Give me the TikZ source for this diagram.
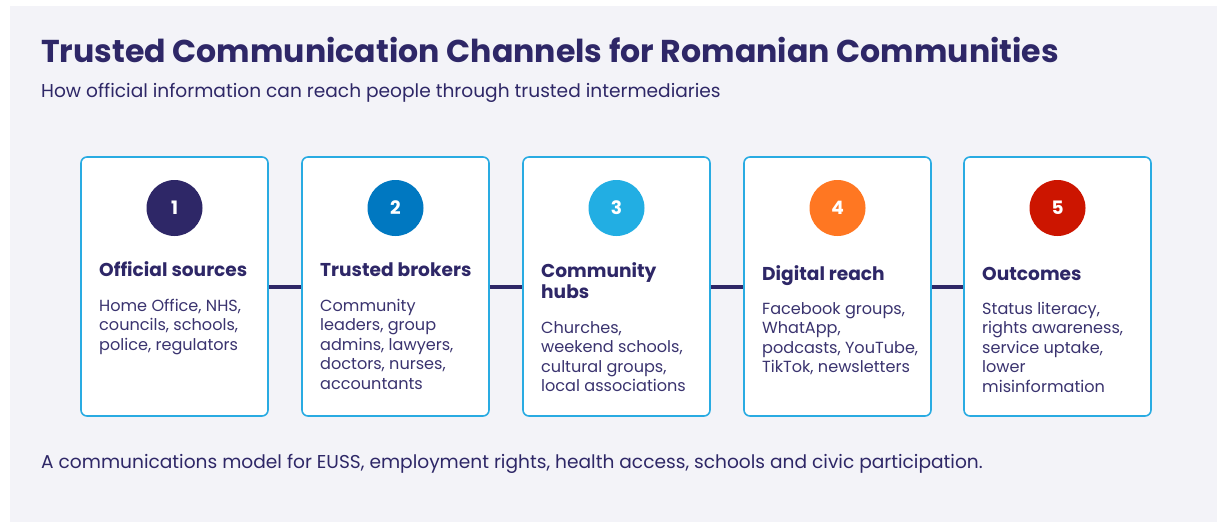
\documentclass[tikz,border=0pt]{standalone}
\usepackage{fontspec}
\setmainfont{Poppins}
\definecolor{navy}{HTML}{2E2767}
\definecolor{bodytxt}{HTML}{3A336F}
\definecolor{panel}{HTML}{F3F3F8}
\definecolor{cardline}{HTML}{29ABE2}
\definecolor{cA}{HTML}{2E2767}
\definecolor{cB}{HTML}{0078C1}
\definecolor{cC}{HTML}{22AEE3}
\definecolor{cD}{HTML}{FF7722}
\definecolor{cE}{HTML}{CC1500}
\newcommand\linestack[1]{\begin{tabular}[t]{@{}l@{}}#1\end{tabular}}
\tikzset{
  card/.style={draw=cardline, line width=1.6pt, fill=white, rounded corners=6pt,
    minimum width=187pt, minimum height=259pt, inner sep=0pt},
  num/.style={circle, minimum size=56pt, inner sep=0pt, text=white,
    font=\bfseries\fontsize{18.5}{20}\selectfont},
  head/.style={anchor=base west, inner sep=0pt, text=navy,
    font=\bfseries\fontsize{18.6}{21.5}\selectfont},
  body/.style={anchor=base west, inner sep=0pt, text=bodytxt,
    font=\fontsize{16.1}{19.5}\selectfont},
  conn/.style={draw=navy, line width=4pt},
}
\begin{document}
\begin{tikzpicture}[x=1pt,y=-1pt]
\useasboundingbox (0,0) rectangle (1217,522);
\fill[panel] (10,6) rectangle (1217,522);
\node[anchor=base west, inner sep=0pt, text=navy, font=\bfseries\fontsize{31.6}{36}\selectfont] (title) at (41,62) {Trusted Communication Channels for Romanian Communities};
\node[anchor=base west, inner sep=0pt, text=navy, font=\fontsize{18.6}{22}\selectfont] (sub) at (41,97.5) {How official information can reach people through trusted intermediaries};
\node[anchor=base west, inner sep=0pt, text=navy, font=\fontsize{18.6}{22}\selectfont] (foot) at (41,468) {A communications model for EUSS, employment rights, health access, schools and civic participation.};

\node[card] (b1) at (174.5,286.5) {};
\node[card] (b2) at (395.5,286.5) {};
\node[card] (b3) at (616.5,286.5) {};
\node[card] (b4) at (837.5,286.5) {};
\node[card] (b5) at (1057.5,286.5) {};

\draw[conn] (b1.east) -- (b2.west);
\draw[conn] (b2.east) -- (b3.west);
\draw[conn] (b3.east) -- (b4.west);
\draw[conn] (b4.east) -- (b5.west);

\node[num, fill=cA] (n1) at (174.5,208) {1};
\node[num, fill=cB] (n2) at (395.5,208) {2};
\node[num, fill=cC] (n3) at (616.5,208) {3};
\node[num, fill=cD] (n4) at (837.5,208) {4};
\node[num, fill=cE] (n5) at (1057.5,208) {5};

\node[head] (h1) at (99,276) {Official sources};
\node[body] (t1) at (99,311) {\linestack{Home Office, NHS,\\councils, schools,\\police, regulators}};
\node[head] (h2) at (320,276) {Trusted brokers};
\node[body] (t2) at (320,311) {\linestack{Community\\leaders, group\\admins, lawyers,\\doctors, nurses,\\accountants}};
\node[head] (h3) at (541,277) {\linestack{Community\\hubs}};
\node[body] (t3) at (541,333) {\linestack{Churches,\\weekend schools,\\cultural groups,\\local associations}};
\node[head] (h4) at (762,280) {Digital reach};
\node[body] (t4) at (762,314) {\linestack{Facebook groups,\\WhatApp,\\podcasts, YouTube,\\TikTok, newsletters}};
\node[head] (h5) at (982,280) {Outcomes};
\node[body] (t5) at (982,314) {\linestack{Status literacy,\\rights awareness,\\service uptake,\\lower\\misinformation}};
\end{tikzpicture}
\end{document}
